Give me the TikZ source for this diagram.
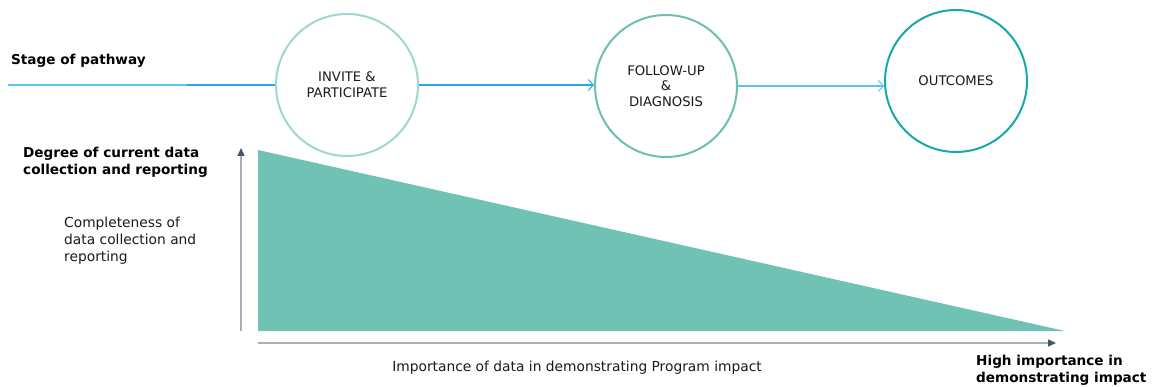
\documentclass[tikz,border=0pt]{standalone}
\usepackage{fontspec}
\setmainfont{DejaVu Sans}
\usetikzlibrary{arrows.meta}
\definecolor{lblue}{HTML}{5CC3EA}
\definecolor{dblue}{HTML}{27AAE1}
\definecolor{cA}{HTML}{9ED7D1}
\definecolor{cB}{HTML}{6CC0B2}
\definecolor{cC}{HTML}{17A9AA}
\definecolor{tri}{HTML}{70C2B4}
\definecolor{slate}{HTML}{44546A}
\definecolor{axisg}{HTML}{A9B0BC}
\definecolor{txt}{HTML}{1A1A1A}
\begin{document}
\begin{tikzpicture}[x=1pt,y=-1pt,
  stage/.style={circle,line width=2pt,fill=white,minimum size=142pt,inner sep=0pt,align=center,font=\fontsize{13.2}{15.8}\selectfont,text=txt},
  flow/.style={line width=1.3pt,-{Straight Barb[length=5pt,width=11pt,line width=1pt]}},
  boldlab/.style={font=\bfseries\fontsize{13.6}{17}\selectfont,align=left,anchor=west,inner sep=0pt,text=black},
  normlab/.style={font=\fontsize{13.8}{17}\selectfont,align=left,anchor=west,inner sep=0pt,text=txt}]
\useasboundingbox (0,0) rectangle (1153,387);
% triangle
\fill[tri] (258,150) -- (258,331) -- (1065,331) -- cycle;
% axes
\coordinate (vb) at (241,331);
\coordinate (vt) at (241,148);
\draw[axisg,line width=1.3pt,-{Triangle[length=8pt,width=7pt,color=slate]}] (vb) -- (vt);
\coordinate (hl) at (258,343);
\coordinate (hr) at (1056,343);
\draw[axisg,line width=1.3pt,-{Triangle[length=8pt,width=7pt,color=slate]}] (hl) -- (hr);
% circles
\node[stage,draw=cA] (c1) at (347,85) {INVITE \&\\PARTICIPATE};
\node[stage,draw=cB] (c2) at (666,86) {FOLLOW-UP\\\&\\DIAGNOSIS};
\node[stage,draw=cC] (c3) at (956,81) {OUTCOMES};
% lines
\coordinate (s0) at (8,85);
\coordinate (s1) at (187,85);
\draw[lblue,line width=1.3pt] (s0) -- (s1);
\draw[dblue,line width=1.3pt] (s1) -- (c1.west);
\draw[flow,dblue] (c1.east) -- (c1.east -| c2.west);
\draw[flow,lblue] (c2.east) -- (c3.west |- c2.east);
% labels
\node[boldlab] (stg) at (11,61) {Stage of pathway};
\node[boldlab] (deg) at (23,162) {Degree of current data\\collection and reporting};
\node[normlab] (comp) at (64,241) {Completeness of\\data collection and\\reporting};
\node[normlab,anchor=center] (imp) at (577,368) {Importance of data in demonstrating Program impact};
\node[boldlab] (high) at (976,370) {High importance in\\demonstrating impact};
\end{tikzpicture}
\end{document}
